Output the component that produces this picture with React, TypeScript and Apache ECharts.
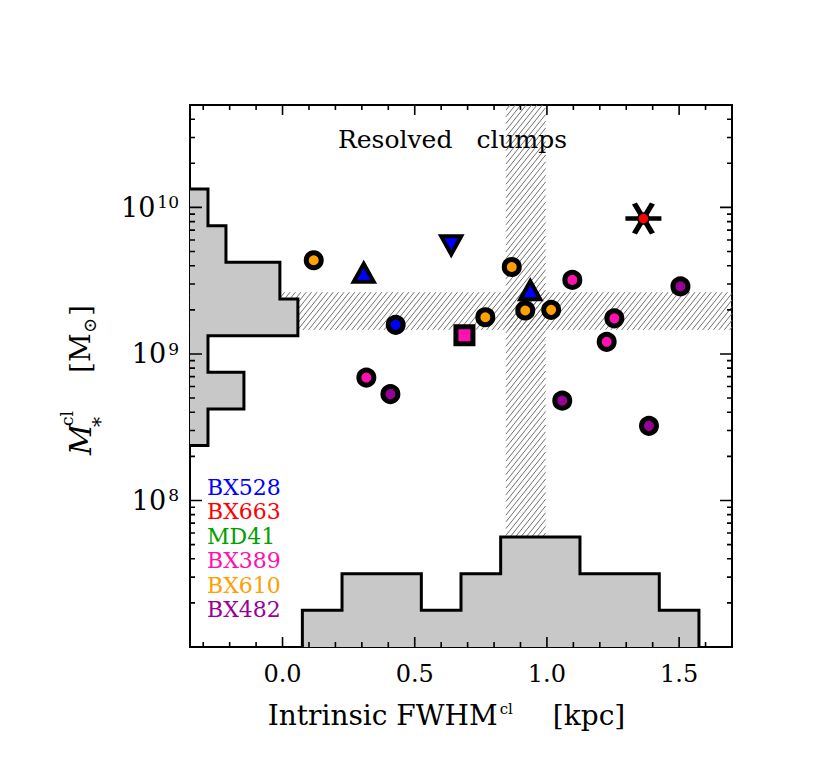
import React, { useEffect, useRef } from 'react';
import * as echarts from 'echarts';

// ---------------- data ----------------
const objectNames = ['BX528', 'BX663', 'MD41', 'BX389', 'BX610', 'BX482'];
const objectColors = ['#0000ff', '#ff0000', '#00a000', '#ff10b0', '#ffa000', '#990099'];

// [intrinsic FWHM (kpc), clump stellar mass (Msun), marker]
const bx528Clumps: any[] = [
  [0.307, 3.57e9, 'triangle'],
  [0.638, 5.52e9, 'invtriangle'],
  [0.428, 1.58e9, 'circle'],
  [0.937, 2.72e9, 'triangle'],
];
const bx663Clumps: any[] = [[1.365, 8.4e9, 'star']];
const md41Clumps: any[] = [];
const bx389Clumps: any[] = [
  [0.688, 1.34e9, 'square'],
  [0.317, 6.9e8, 'circle'],
  [1.096, 3.2e9, 'circle'],
  [1.255, 1.75e9, 'circle'],
  [1.226, 1.21e9, 'circle'],
];
const bx610Clumps: any[] = [
  [0.118, 4.36e9, 'circle'],
  [0.867, 3.92e9, 'circle'],
  [0.767, 1.78e9, 'circle'],
  [0.918, 1.98e9, 'circle'],
  [1.016, 2.0e9, 'circle'],
];
const bx482Clumps: any[] = [
  [0.408, 5.32e8, 'circle'],
  [1.058, 4.8e8, 'circle'],
  [1.386, 3.23e8, 'circle'],
  [1.505, 2.89e9, 'circle'],
];
const clumpsByObject = [bx528Clumps, bx663Clumps, md41Clumps, bx389Clumps, bx610Clumps, bx482Clumps];

// size histogram (bottom)
const sizeBinEdges = [0.075, 0.225, 0.375, 0.525, 0.675, 0.825, 0.975, 1.125, 1.275, 1.425, 1.575];
const sizeCounts = [1, 2, 2, 1, 2, 3, 3, 2, 2, 1];
// mass histogram (left), log10 bin edges
const massBinEdgesLog = [8.375, 8.625, 8.875, 9.125, 9.375, 9.625, 9.875, 10.125];
const massCounts = [1, 3, 1, 6, 5, 2, 1];

// hatched bands (median ranges)
const sizeBand = [0.845, 0.995];
const massBand = [1.46e9, 2.64e9];

// tick labels
const xTickValues = [0, 0.5, 1.0, 1.5];
const xTickLabels = ['0.0', '0.5', '1.0', '1.5'];
const yTickExponents = [8, 9, 10];

// axes
const X_MIN = -0.35;
const X_MAX = 1.7;
const Y_MIN = 1e7;
const Y_MAX = 5e10;
const HIST_X_PER_COUNT = 0.068; // kpc per count (left histogram)
const HIST_DEX_PER_COUNT = 0.25; // dex per count (bottom histogram)

const FONT = '"DejaVu Serif", "Liberation Serif", serif';

function markerItems(p: any[], color: string): any[] {
  const [x, y, m] = p;
  const value = [x, y];
  if (m === 'star') {
    return [
      {
        value,
        symbol: 'path://M0,15L36,15M9,0L27,30M27,0L9,30',
        symbolSize: [36, 30],
        itemStyle: { color: 'transparent', borderColor: '#000', borderWidth: 5, opacity: 1 },
      },
      {
        value,
        symbol: 'circle',
        symbolSize: 11,
        itemStyle: { color, borderColor: '#000', borderWidth: 1.5, opacity: 1 },
      },
    ];
  }
  if (m === 'triangle' || m === 'invtriangle') {
    return [
      {
        value,
        symbol: 'triangle',
        symbolSize: [20, 18],
        symbolRotate: m === 'invtriangle' ? 180 : 0,
        itemStyle: { color, borderColor: '#000', borderWidth: 4, opacity: 1 },
      },
    ];
  }
  if (m === 'square') {
    return [
      { value, symbol: 'rect', symbolSize: 17, itemStyle: { color, borderColor: '#000', borderWidth: 5, opacity: 1 } },
    ];
  }
  return [{ value, symbol: 'circle', symbolSize: 15, itemStyle: { color, borderColor: '#000', borderWidth: 5, opacity: 1 } }];
}

function hatchPath(x0: number, y0: number, x1: number, y1: number, step: number, k: number) {
  // lines x + k*y = c, running from lower-left to upper-right
  let d = '';
  const cStart = Math.ceil((x0 + k * y0) / step) * step;
  for (let c = cStart; c <= x1 + k * y1; c += step) {
    const xa = Math.max(x0, c - k * y1);
    const xb = Math.min(x1, c - k * y0);
    if (xb > xa) {
      d += `M${xa.toFixed(2)},${((c - xa) / k).toFixed(2)}L${xb.toFixed(2)},${((c - xb) / k).toFixed(2)}`;
    }
  }
  return d;
}

function buildOption() {
  const scatterSeries = objectNames.map((name, i) => ({
    type: 'scatter',
    name,
    xAxisIndex: 0,
    yAxisIndex: 0,
    z: 5,
    itemStyle: { color: objectColors[i], opacity: 1 },
    emphasis: { disabled: true },
    data: clumpsByObject[i].flatMap((p: any[]) => markerItems(p, objectColors[i])),
  }));

  const bandSeries = {
    type: 'custom',
    xAxisIndex: 0,
    yAxisIndex: 0,
    z: 1,
    silent: true,
    data: [[sizeBand[0], massBand[0]]],
    renderItem: (_params: any, api: any) => {
      const a = api.coord([X_MIN, massBand[1]]);
      const b = api.coord([X_MAX, massBand[0]]);
      const c = api.coord([sizeBand[0], Y_MAX]);
      const d = api.coord([sizeBand[1], Y_MIN]);
      const k = 0.8;
      const path = hatchPath(a[0], a[1], b[0], b[1], 5.4, k) + hatchPath(c[0], c[1], d[0], d[1], 5.4, k);
      return {
        type: 'path',
        shape: { pathData: path },
        style: { stroke: '#707070', lineWidth: 1, fill: 'none' },
      };
    },
  };

  const histSeries = {
    type: 'custom',
    xAxisIndex: 0,
    yAxisIndex: 0,
    z: 2,
    silent: true,
    data: [[0, 1e9]],
    renderItem: (_params: any, api: any) => {
      // bottom (size) histogram
      const bottomPts: number[][] = [];
      bottomPts.push(api.coord([sizeBinEdges[0], Y_MIN]));
      sizeCounts.forEach((cnt, i) => {
        const top = Math.pow(10, 7 + HIST_DEX_PER_COUNT * cnt);
        bottomPts.push(api.coord([sizeBinEdges[i], top]));
        bottomPts.push(api.coord([sizeBinEdges[i + 1], top]));
      });
      bottomPts.push(api.coord([sizeBinEdges[sizeBinEdges.length - 1], Y_MIN]));
      // left (mass) histogram
      const leftPts: number[][] = [];
      leftPts.push(api.coord([X_MIN, Math.pow(10, massBinEdgesLog[0])]));
      massCounts.forEach((cnt, i) => {
        const right = X_MIN + HIST_X_PER_COUNT * cnt;
        leftPts.push(api.coord([right, Math.pow(10, massBinEdgesLog[i])]));
        leftPts.push(api.coord([right, Math.pow(10, massBinEdgesLog[i + 1])]));
      });
      leftPts.push(api.coord([X_MIN, Math.pow(10, massBinEdgesLog[massBinEdgesLog.length - 1])]));
      const fill = '#c8c8c8';
      return {
        type: 'group',
        children: [
          { type: 'polygon', shape: { points: bottomPts }, style: { fill, stroke: 'none' } },
          { type: 'polygon', shape: { points: leftPts }, style: { fill, stroke: 'none' } },
          { type: 'polyline', shape: { points: bottomPts }, style: { stroke: '#000', lineWidth: 3, fill: 'none' } },
          { type: 'polyline', shape: { points: leftPts }, style: { stroke: '#000', lineWidth: 3, fill: 'none' } },
        ],
      };
    },
  };

  const tickSeries = {
    type: 'custom',
    xAxisIndex: 0,
    yAxisIndex: 0,
    z: 6,
    silent: true,
    data: [[0, 1e9]],
    renderItem: (_params: any, api: any) => {
      const tl = api.coord([X_MIN, Y_MAX]);
      const br = api.coord([X_MAX, Y_MIN]);
      const left = tl[0], top = tl[1], right = br[0], bottom = br[1];
      const MAJ = 10, MIN = 5;
      let d = '';
      for (let k = -3; k <= 17; k++) {
        const v = k / 10;
        if (v <= X_MIN || v >= X_MAX) continue;
        const len = k % 5 === 0 ? MAJ : MIN;
        const px = api.coord([v, Y_MIN])[0];
        d += `M${px},${bottom}L${px},${bottom - len}M${px},${top}L${px},${top + len}`;
      }
      for (let n = 7; n <= 10; n++) {
        for (let m = 1; m <= 9; m++) {
          const v = m * Math.pow(10, n);
          if (v <= Y_MIN || v >= Y_MAX) continue;
          const len = m === 1 ? MAJ + 2 : MIN;
          const py = api.coord([0, v])[1];
          d += `M${left},${py}L${left + len},${py}M${right},${py}L${right - len},${py}`;
        }
      }
      return { type: 'path', shape: { pathData: d }, style: { stroke: '#000', lineWidth: 1.6, fill: 'none' } };
    },
  };

  const axisLine = { show: true, onZero: false, lineStyle: { color: '#000', width: 2 } };

  return {
    animation: false,
    backgroundColor: '#ffffff',
    grid: { left: 190, right: 98, top: 105, bottom: 135, containLabel: false, outerBoundsMode: 'none' },
    title: {
      text: '{a|Resolved}{b|clumps}',
      left: 338,
      top: 127,
      padding: 0,
      textStyle: {
        fontWeight: 'normal',
        rich: {
          a: { fontFamily: FONT, fontSize: 25, fontWeight: 'normal', color: '#000' },
          b: { fontFamily: FONT, fontSize: 25, fontWeight: 'normal', color: '#000', padding: [0, 0, 0, 24] },
        },
      },
    },
    legend: {
      orient: 'vertical',
      left: 202,
      top: 476,
      itemGap: 2.5,
      itemWidth: 0,
      itemHeight: 0,
      padding: 0,
      selectedMode: false,
      itemStyle: { color: 'transparent', borderWidth: 0, opacity: 0 },
      textStyle: { fontFamily: FONT, fontSize: 22 },
      data: objectNames.map((name, i) => ({ name, textStyle: { color: objectColors[i] } })),
    },
    xAxis: [
      {
        type: 'value',
        min: X_MIN,
        max: X_MAX,
        position: 'bottom',
        splitNumber: 4,
        splitLine: { show: false },
        axisLine,
        axisTick: { show: false },
        axisLabel: {
          customValues: xTickValues,
          margin: 15,
          color: '#000',
          fontFamily: FONT,
          fontSize: 24,
          formatter: (v: number) => {
            const i = xTickValues.findIndex((t) => Math.abs(t - v) < 1e-6);
            return i >= 0 ? xTickLabels[i] : '';
          },
        },
        name: '{a|Intrinsic FWHM}{s|cl}{k|[kpc]}',
        nameLocation: 'middle',
        nameGap: 54,
        nameTextStyle: {
          padding: [0, 29, 0, 0],
          rich: {
            a: { fontFamily: FONT, fontSize: 28, color: '#000' },
            s: { fontFamily: FONT, fontSize: 15, color: '#000', verticalAlign: 'top', padding: [0, 0, 0, 2] },
            k: { fontFamily: FONT, fontSize: 28, color: '#000', padding: [0, 0, 0, 40] },
          },
        },
      },
      {
        type: 'value',
        min: X_MIN,
        max: X_MAX,
        position: 'top',
        splitLine: { show: false },
        axisLine,
        axisTick: { show: false },
        axisLabel: { show: false },
      },
    ],
    yAxis: [
      {
        type: 'log',
        logBase: 10,
        min: Y_MIN,
        max: Y_MAX,
        position: 'left',
        splitLine: { show: false },
        axisLine,
        axisTick: { show: false },
        minorTick: { show: false },
        axisLabel: {
          margin: 11,
          formatter: (v: number) => {
            const e = Math.log10(v);
            const r = Math.round(e);
            if (Math.abs(e - r) > 1e-6 || yTickExponents.indexOf(r) < 0) return '';
            return `{b|10}{s|${r}}`;
          },
          rich: {
            b: { fontFamily: FONT, fontSize: 27, color: '#000' },
            s: { fontFamily: FONT, fontSize: 17, color: '#000', verticalAlign: 'top', padding: [0, 0, 0, 2] },
          },
        },
      },
      {
        type: 'log',
        logBase: 10,
        min: Y_MIN,
        max: Y_MAX,
        position: 'right',
        splitLine: { show: false },
        axisLine,
        axisTick: { show: false },
        axisLabel: { show: false },
      },
    ],
    graphic: [
      {
        type: 'group',
        x: 80,
        y: 383,
        rotation: Math.PI / 2,
        children: [
          { type: 'text', x: -72, y: 0, style: { text: 'M', font: `italic 30px ${FONT}`, fill: '#000', align: 'left', verticalAlign: 'middle' } },
          { type: 'text', x: -43, y: -13, style: { text: 'cl', font: `17px ${FONT}`, fill: '#000', align: 'left', verticalAlign: 'middle' } },
          { type: 'text', x: -44, y: 20, style: { text: '*', font: `20px ${FONT}`, fill: '#000', align: 'left', verticalAlign: 'middle' } },
          { type: 'text', x: 10, y: 0, style: { text: '[M', font: `28px ${FONT}`, fill: '#000', align: 'left', verticalAlign: 'middle' } },
          { type: 'text', x: 50, y: 9, style: { text: '⊙', font: `18px ${FONT}`, fill: '#000', align: 'left', verticalAlign: 'middle' } },
          { type: 'text', x: 67, y: 0, style: { text: ']', font: `28px ${FONT}`, fill: '#000', align: 'left', verticalAlign: 'middle' } },
        ],
      },
    ],
    series: [bandSeries, histSeries, ...scatterSeries, tickSeries],
  };
}

export default function App() {
  const ref = useRef<HTMLDivElement>(null);
  useEffect(() => {
    document.body.style.margin = '0';
    const chart = echarts.init(ref.current as HTMLDivElement, null, { renderer: 'svg' });
    chart.setOption(buildOption() as any);
    return () => {
      chart.dispose();
    };
  }, []);
  return <div ref={ref} style={{ width: 830, height: 782, position: 'absolute', left: 0, top: 0 }} />;
}
